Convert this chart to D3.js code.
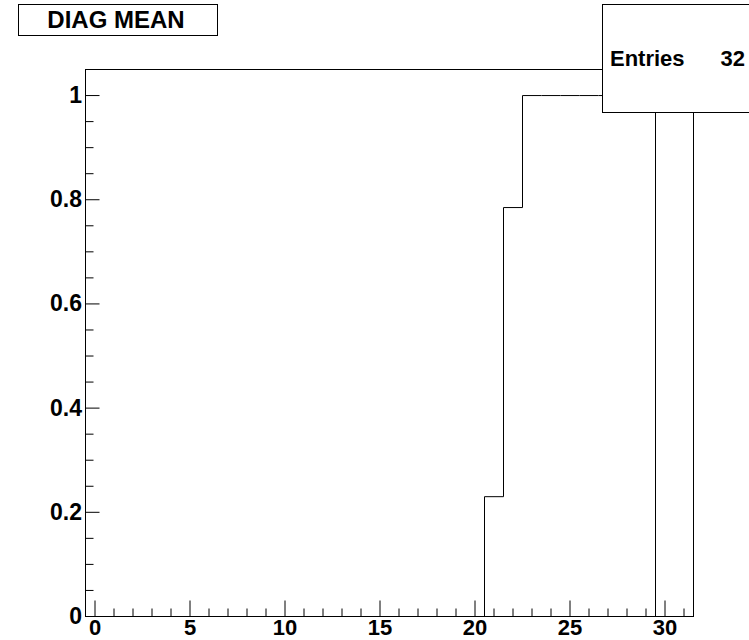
<!DOCTYPE html>
<html><head><meta charset="utf-8">
<script src="https://cdn.jsdelivr.net/npm/d3@7"></script>
<style>body{margin:0;background:#fff}svg{display:block}text{font-family:"Liberation Sans",Arial,sans-serif;font-weight:bold;fill:#000}</style>
</head><body><svg id="c" width="749" height="640"></svg>
<script>
const binCenters = d3.range(0, 32);
const binValues = [0,0,0,0,0,0,0,0,0,0,0,0,0,0,0,0,0,0,0,0,0,0.23,0.785,1,1,1,1,1,1,1,0,0];
const xTicks = [0,5,10,15,20,25,30];
const yTicks = [0,0.2,0.4,0.6,0.8,1];
const titleText = "DIAG MEAN";
const statsLabel = "Entries", statsValue = "32";

const svg = d3.select("#c");
const L=85.5, R=693.5, T=69.5, B=616.5;
const x = d3.scaleLinear().domain([-0.5,31.5]).range([L,R]);
const y = d3.scaleLinear().domain([0,1.05]).range([B,T]);

// frame
svg.append("rect").attr("x",L).attr("y",T).attr("width",R-L).attr("height",B-T).attr("fill","none").attr("stroke","#000").attr("stroke-width",1);

// histogram
const pts=[];
binCenters.forEach((c,i)=>{pts.push([c-0.5,binValues[i]]);});
pts.push([31.5,binValues[31]]);
svg.append("path").attr("d",d3.line().x(d=>x(d[0])).y(d=>y(d[1])).curve(d3.curveStepAfter)(pts))
  .attr("fill","none").attr("stroke","#000").attr("stroke-width",1);

// x axis ticks
const xg = svg.append("g");
d3.range(0,32).forEach(v=>{
  const major = v%5===0;
  xg.append("line").attr("x1",x(v)).attr("x2",x(v)).attr("y1",B).attr("y2",B-(major?16:8)).attr("stroke","#000");
});
xTicks.forEach(v=>{
  xg.append("text").attr("x",x(v)).attr("y",635).attr("text-anchor","middle").attr("font-size",22).text(v);
});
// y axis ticks
const yg = svg.append("g");
d3.range(0,21).forEach(i=>{
  const v=i*0.05; const major=i%4===0;
  yg.append("line").attr("x1",L).attr("x2",L+(major?14:8)).attr("y1",y(v)).attr("y2",y(v)).attr("stroke","#000");
});
yTicks.forEach(v=>{
  yg.append("text").attr("x",82).attr("y",y(v)+7.5).attr("text-anchor","end").attr("font-size",23).text(v===0?"0":v===1?"1":d3.format(".1f")(v));
});

// title box
svg.append("rect").attr("x",18.5).attr("y",4.5).attr("width",199).attr("height",31).attr("fill","#fff").attr("stroke","#000");
svg.append("text").attr("x",116).attr("y",27.5).attr("text-anchor","middle").attr("font-size",24).text(titleText);

// stats box
svg.append("rect").attr("x",602.5).attr("y",4.5).attr("width",160).attr("height",108).attr("fill","#fff").attr("stroke","#000");
svg.append("text").attr("x",610).attr("y",66).attr("font-size",22).text(statsLabel);
svg.append("text").attr("x",745).attr("y",66).attr("text-anchor","end").attr("font-size",22).text(statsValue);
</script></body></html>
